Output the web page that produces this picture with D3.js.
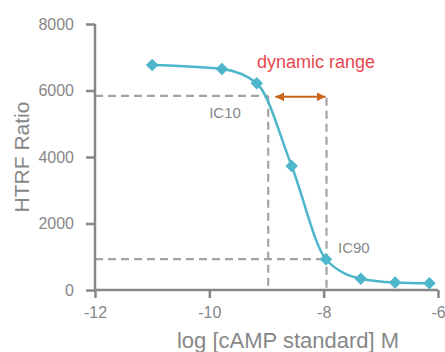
<!DOCTYPE html>
<html>
<head>
<meta charset="utf-8">
<script src="https://cdn.jsdelivr.net/npm/d3@7"></script>
<style>
  body { margin: 0; background: #fff; }
  text { font-family: "Liberation Sans", Arial, sans-serif; }
</style>
</head>
<body>
<div id="chart"></div>
<script>
// measured points (log M, HTRF ratio)
const logConc = [-11.0, -9.78, -9.17, -8.56, -7.96, -7.35, -6.75, -6.15];
const htrf = [6770, 6650, 6220, 3730, 925, 340, 225, 200];

const xTicks = [-12, -10, -8, -6];
const yTicks = [0, 2000, 4000, 6000, 8000];

// IC10 / IC90 guide values
const ic10 = [-8.97, 5840];
const ic90 = [-7.95, 930];
const ic90Top = 5780;

const width = 445;
const height = 352;

const svg = d3.select("#chart").append("svg")
    .attr("width", width)
    .attr("height", height);

const x = d3.scaleLinear().domain([-12, -6]).range([95, 438]);
const y = d3.scaleLinear().domain([0, 8000]).range([290, 24]);

const axisColor = "#878787";
const dashColor = "#a4a4a4";
const lineColor = "#4db6ca";

const defs = svg.append("defs");
["start", "end"].forEach(k => {
    defs.append("marker")
        .attr("id", "arrow-" + k)
        .attr("viewBox", "0 0 10 10")
        .attr("refX", k === "end" ? 10 : 0)
        .attr("refY", 5)
        .attr("markerWidth", 9)
        .attr("markerHeight", 9)
        .attr("markerUnits", "userSpaceOnUse")
        .attr("orient", "auto")
        .append("path")
        .attr("d", k === "end" ? "M0,0L10,5L0,10Z" : "M10,0L0,5L10,10Z")
        .attr("fill", "#c8651b");
});

// dashed guides
const guides = [
    [[-12, ic10[1]], [ic10[0], ic10[1]]],
    [[ic10[0], ic10[1]], [ic10[0], 0]],
    [[-12, ic90[1]], [ic90[0], ic90[1]]],
    [[ic90[0], ic90Top], [ic90[0], 0]]
];
svg.append("g").selectAll("line")
    .data(guides)
    .enter().append("line")
    .attr("x1", d => x(d[0][0]))
    .attr("y1", d => y(d[0][1]))
    .attr("x2", d => x(d[1][0]))
    .attr("y2", d => y(d[1][1]))
    .attr("stroke", dashColor)
    .attr("stroke-width", 2.2)
    .attr("stroke-dasharray", "8,5");

// axes
const yAxis = svg.append("g")
    .attr("transform", `translate(${x(-12)},0)`)
    .call(d3.axisLeft(y).tickValues(yTicks).tickSize(9).tickPadding(12).tickFormat(d => String(d)));
const xAxis = svg.append("g")
    .attr("transform", `translate(0,${y(0)})`)
    .call(d3.axisBottom(x).tickValues(xTicks).tickSize(8).tickPadding(9).tickFormat(d => String(d)));

[xAxis, yAxis].forEach(g => {
    g.select(".domain").attr("stroke", axisColor).attr("stroke-width", 2.5);
    g.selectAll(".tick line").attr("stroke", axisColor).attr("stroke-width", 2.5);
    g.selectAll(".tick text")
        .attr("fill", axisColor)
        .style("font-size", "16px")
        .style("font-family", "'Liberation Sans', Arial, sans-serif");
});
yAxis.select(".domain").attr("d", `M0,${y(8000)}V${y(0)}`);
xAxis.select(".domain").attr("d", `M${x(-12)},0H${x(-6)}`);

// curve
const line = d3.line()
    .x((d, i) => x(logConc[i]))
    .y(d => y(d))
    .curve(d3.curveMonotoneX);
svg.append("path")
    .datum(htrf)
    .attr("d", line)
    .attr("fill", "none")
    .attr("stroke", lineColor)
    .attr("stroke-width", 2.5);

// markers
const diamond = d3.symbol().type(d3.symbolDiamond2).size(100);
svg.append("g").selectAll("path")
    .data(htrf)
    .enter().append("path")
    .attr("d", diamond)
    .attr("transform", (d, i) => `translate(${x(logConc[i])},${y(d)})`)
    .attr("fill", lineColor);

// dynamic range arrow
svg.append("line")
    .attr("x1", x(ic10[0]) + 7)
    .attr("x2", x(ic90[0]) - 1)
    .attr("y1", y(ic10[1]) + 1)
    .attr("y2", y(ic10[1]) + 1)
    .attr("stroke", "#c8651b")
    .attr("stroke-width", 2)
    .attr("marker-start", "url(#arrow-start)")
    .attr("marker-end", "url(#arrow-end)");

svg.append("text")
    .attr("x", 257)
    .attr("y", 68)
    .attr("fill", "#e8474f")
    .style("font-size", "18px")
    .text("dynamic range");

svg.append("text")
    .attr("x", 225)
    .attr("y", 118)
    .attr("text-anchor", "middle")
    .attr("fill", axisColor)
    .style("font-size", "15px")
    .text("IC10");

svg.append("text")
    .attr("x", 338)
    .attr("y", 253)
    .attr("fill", axisColor)
    .style("font-size", "15px")
    .text("IC90");

// axis titles
svg.append("text")
    .attr("x", 288)
    .attr("y", 348)
    .attr("text-anchor", "middle")
    .attr("fill", axisColor)
    .style("font-size", "22px")
    .text("log [cAMP standard] M");

svg.append("text")
    .attr("transform", "translate(29,157) rotate(-90)")
    .attr("text-anchor", "middle")
    .attr("fill", axisColor)
    .style("font-size", "21px")
    .text("HTRF Ratio");
</script>
</body>
</html>
